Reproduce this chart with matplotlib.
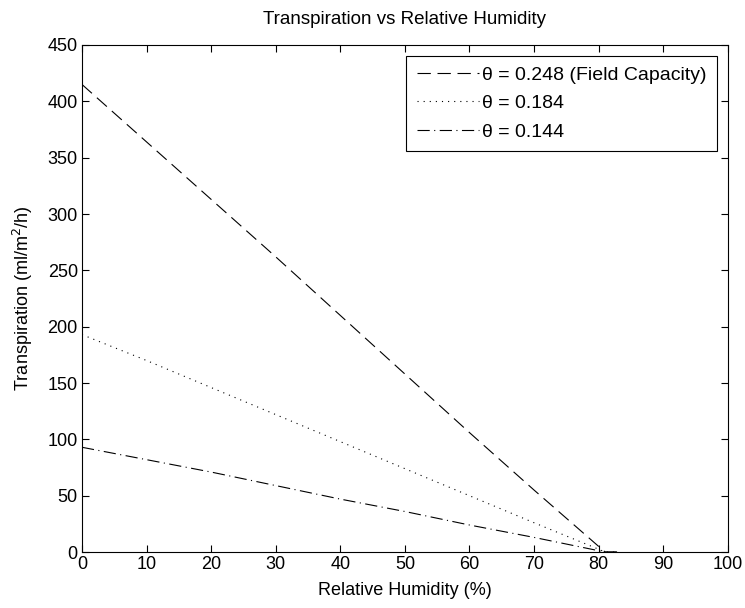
import matplotlib
matplotlib.use('Agg')
import matplotlib.pyplot as plt

# relative humidity (%) and transpiration (ml/m2/h)
rh = [0, 10, 20, 30, 40, 50, 60, 70, 80, 81, 83]
fc_248 = [415, 364, 313, 262, 210, 158, 106, 55, 5, 0, 0]
th_184 = [193, 170, 146, 122, 98, 74, 50, 26, 2.5, 0, 0]
th_144 = [93, 82, 71, 59, 47, 36, 24, 13, 1.2, 0, 0]

labels = ['\u03b8 = 0.248 (Field Capacity)', '\u03b8 = 0.184', '\u03b8 = 0.144']

plt.rcParams['font.family'] = ['Liberation Sans', 'DejaVu Sans']
plt.rcParams['font.size'] = 13

fig = plt.figure(figsize=(7.45, 6.08), dpi=100)
ax = fig.add_axes([0.110, 0.092, 0.867, 0.834])

ax.plot(rh, fc_248, color='black', lw=0.8, linestyle=(0, (12, 6)), label=labels[0])
ax.plot(rh, th_184, color='black', lw=0.8, linestyle=(0, (1, 4.5)), label=labels[1])
ax.plot(rh, th_144, color='black', lw=0.8, linestyle=(0, (11, 4, 1, 4)), label=labels[2])

ax.set_xlim(0, 100)
ax.set_ylim(0, 450)
ax.set_xticks(range(0, 101, 10))
ax.set_yticks(range(0, 451, 50))
ax.tick_params(direction='in', top=True, right=True, length=5, width=0.8, pad=3)
for s in ax.spines.values():
    s.set_linewidth(0.8)

ax.set_title('Transpiration vs Relative Humidity', fontsize=13.5, pad=15)
ax.set_xlabel('Relative Humidity (%)', labelpad=6)
ax.set_ylabel('Transpiration (ml/m$^2$/h)', labelpad=9)

leg = ax.legend(loc='upper right', fancybox=False, edgecolor='black', framealpha=1,
                fontsize=14, handlelength=3.2, borderaxespad=0.55, labelspacing=0.55,
                handletextpad=0.15, borderpad=0.55)
leg.get_frame().set_linewidth(0.8)

fig.savefig('out.png', dpi=100)
